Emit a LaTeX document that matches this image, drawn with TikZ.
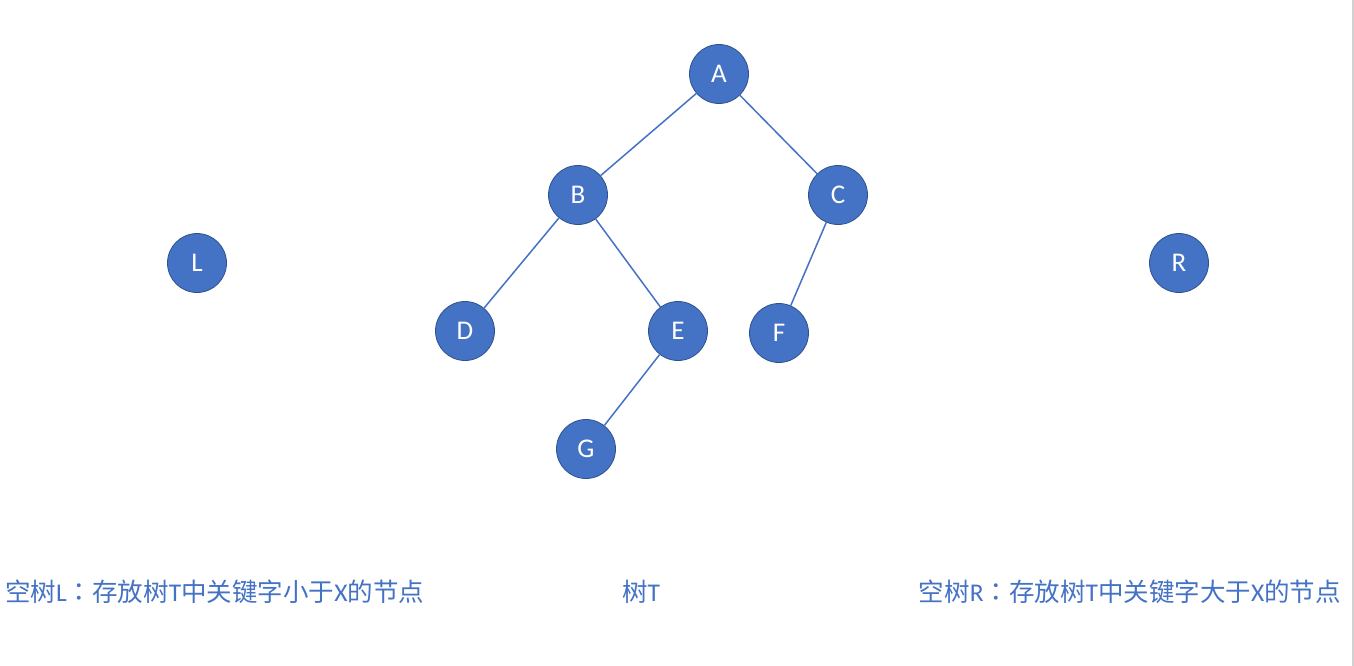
\documentclass[tikz,border=0pt]{standalone}
\usepackage{fontspec}
\setmainfont{Carlito}
\newfontfamily\cjk{Noto Sans CJK SC}
\newfontfamily\cjktc{Noto Sans CJK TC}
\definecolor{nodeblue}{HTML}{4472C4}
\definecolor{nodeedge}{HTML}{2F528F}
\newcommand{\fwcolon}{{\cjktc ：}}
\begin{document}
\begin{tikzpicture}[x=1pt,y=-1pt,
  treenode/.style={circle,fill=nodeblue,draw=nodeedge,line width=0.8pt,minimum size=59pt,inner sep=0pt,text=white,font=\fontsize{27}{27}\selectfont},
  link/.style={draw=nodeblue,line width=1.5pt},
  caption/.style={text=nodeblue,font=\fontsize{25.5}{28}\selectfont,inner sep=0pt}]
\useasboundingbox[fill=white] (0,0) rectangle (1354,666);
\draw[draw=black!18,line width=1.2pt] (1353,0) -- (1353,666);
\node[treenode] (A) at (719,74) {A};
\node[treenode] (B) at (578,195) {B};
\node[treenode] (C) at (838,195) {C};
\node[treenode] (L) at (197,263) {L};
\node[treenode] (R) at (1179,263) {R};
\node[treenode] (D) at (465,331) {D};
\node[treenode] (E) at (678,331) {E};
\node[treenode] (F) at (779,333) {F};
\node[treenode] (G) at (586,449) {G};
\draw[link] (A) -- (B);
\draw[link] (A) -- (C);
\draw[link] (B) -- (D);
\draw[link] (B) -- (E);
\draw[link] (C) -- (F);
\draw[link] (E) -- (G);
\node[caption,anchor=west] (capL) at (5,592) {{\cjk 空树}L\fwcolon{\cjk 存放树}T{\cjk 中关键字小于}X{\cjk 的节点}};
\node[caption] (capT) at (641,592) {{\cjk 树}T};
\node[caption,anchor=east] (capR) at (1341,592) {{\cjk 空树}R\fwcolon{\cjk 存放树}T{\cjk 中关键字大于}X{\cjk 的节点}};
\end{tikzpicture}
\end{document}
